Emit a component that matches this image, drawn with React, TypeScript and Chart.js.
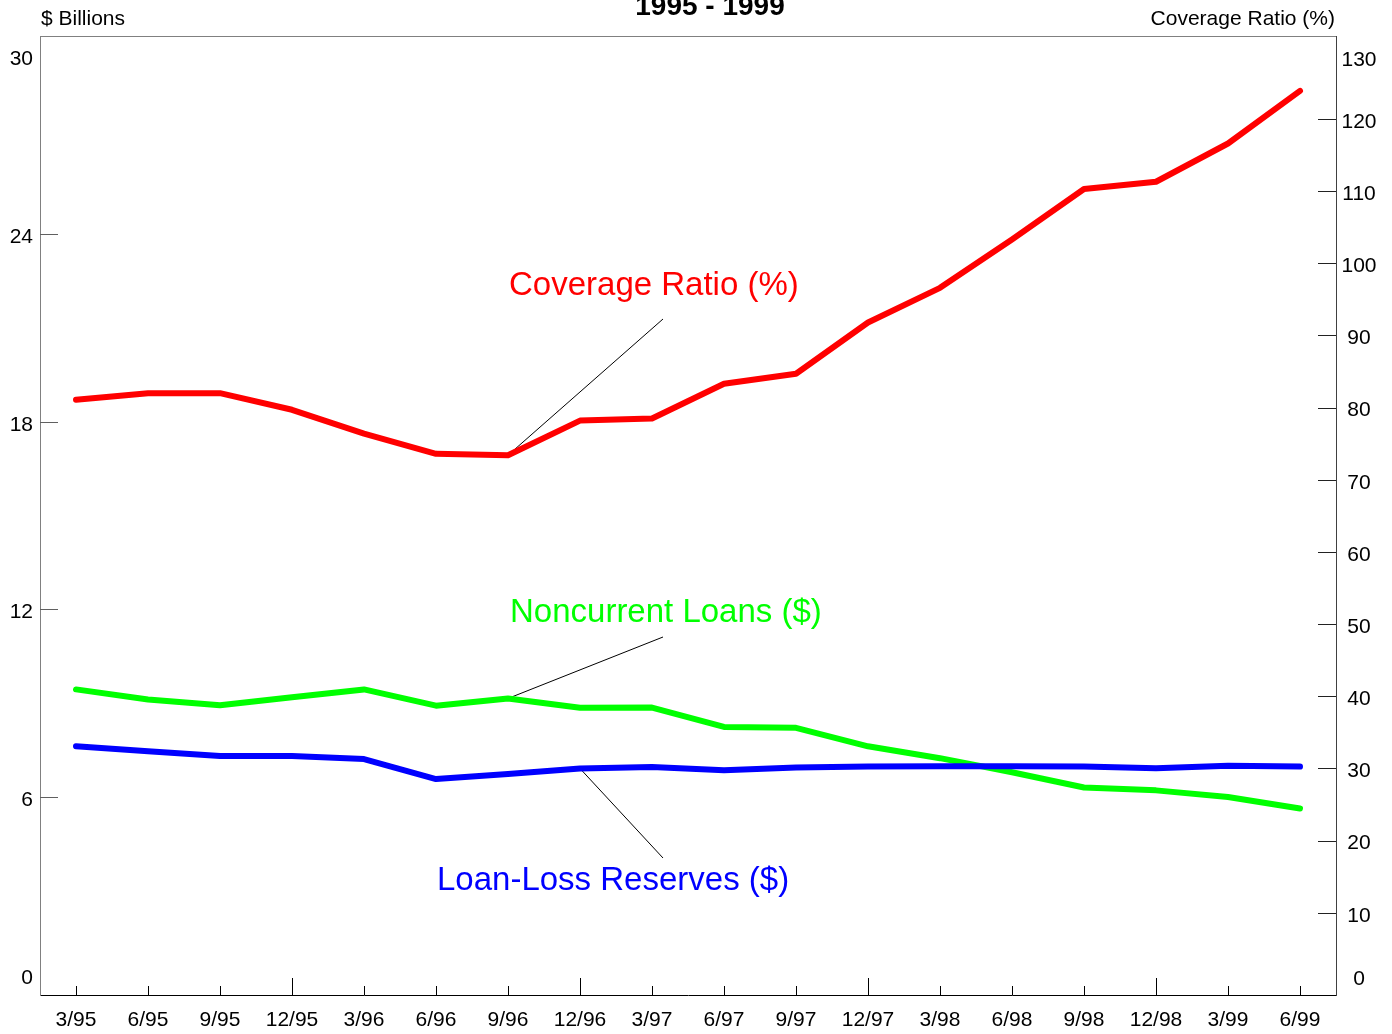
import React, { useEffect, useRef } from "react";
import { Chart, registerables } from "chart.js";

Chart.register(...registerables);

const CATEGORIES = ["3/95", "6/95", "9/95", "12/95", "3/96", "6/96", "9/96", "12/96", "3/97", "6/97", "9/97", "12/97", "3/98", "6/98", "9/98", "12/98", "3/99", "6/99"];
const COVERAGE_RATIO = [81.1, 82.0, 82.0, 79.7, 76.4, 73.6, 73.4, 78.2, 78.5, 83.3, 84.7, 91.8, 96.6, 103.3, 110.3, 111.3, 116.6, 123.9];
const NONCURRENT_LOANS = [9.44, 9.12, 8.93, 9.19, 9.44, 8.92, 9.15, 8.85, 8.86, 8.24, 8.21, 7.62, 7.24, 6.79, 6.30, 6.21, 6.00, 5.63];
const LOAN_LOSS_RESERVES = [7.62, 7.46, 7.31, 7.31, 7.21, 6.57, 6.73, 6.91, 6.96, 6.85, 6.94, 6.97, 6.98, 6.98, 6.97, 6.92, 7.00, 6.97];
const LEFT_TICKS = [0, 6, 12, 18, 24, 30];
const RIGHT_TICKS = [0, 10, 20, 30, 40, 50, 60, 70, 80, 90, 100, 110, 120, 130];

const TITLE = "1995 - 1999";
const LEFT_CAPTION = "$ Billions";
const RIGHT_CAPTION = "Coverage Ratio (%)";

const FONT = '"Liberation Sans", Arial, Helvetica, sans-serif';

// annotation labels with leader lines (dataset index, anchor point index, label pos, leader end)
const ANNOTATIONS = [
  { text: "Coverage Ratio (%)", color: "#FF0000", dataset: 0, index: 6, tx: 509, ty: 295, lx: 663, ly: 319 },
  { text: "Noncurrent Loans ($)", color: "#00FF00", dataset: 1, index: 6, tx: 510, ty: 622, lx: 663, ly: 637 },
  { text: "Loan-Loss Reserves ($)", color: "#0000FF", dataset: 2, index: 7, tx: 437, ty: 890, lx: 663, ly: 858 },
];

// vertical nudge of a value-axis label relative to its tick (end labels are kept inside the frame)
function labelY(scale: any, v: number, first: number, last: number) {
  const y = scale.getPixelForValue(v);
  if (v === last) return y + 13;
  if (v === first) return y - 6;
  return y + 3;
}

const decorPlugin = {
  id: "decor",
  beforeDatasetsDraw(chart: any) {
    const { ctx, scales } = chart;
    ctx.save();
    ctx.strokeStyle = "#000";
    ctx.lineWidth = 1;
    ANNOTATIONS.forEach((a) => {
      const ds = chart.data.datasets[a.dataset];
      const ys = scales[ds.yAxisID];
      const x0 = scales.x.getPixelForValue(a.index);
      const y0 = ys.getPixelForValue(ds.data[a.index]);
      ctx.beginPath();
      ctx.moveTo(x0, y0);
      ctx.lineTo(a.lx, a.ly);
      ctx.stroke();
    });
    ctx.restore();
  },
  afterDraw(chart: any) {
    const { ctx, chartArea, scales } = chart;
    const { left, right, top, bottom } = chartArea;
    ctx.save();
    // top border
    ctx.strokeStyle = "#808080";
    ctx.lineWidth = 1;
    ctx.beginPath();
    ctx.moveTo(left, top + 0.5);
    ctx.lineTo(right, top + 0.5);
    ctx.stroke();

    // left ticks (inward)
    ctx.strokeStyle = "#606060";
    LEFT_TICKS.slice(1, -1).forEach((v) => {
      const y = Math.round(scales.y.getPixelForValue(v)) + 0.5;
      ctx.beginPath();
      ctx.moveTo(left, y);
      ctx.lineTo(left + 18, y);
      ctx.stroke();
    });
    // right ticks (inward)
    ctx.strokeStyle = "#222";
    RIGHT_TICKS.slice(1, -1).forEach((v) => {
      const y = Math.round(scales.y1.getPixelForValue(v)) + 0.5;
      ctx.beginPath();
      ctx.moveTo(right - 18, y);
      ctx.lineTo(right, y);
      ctx.stroke();
    });
    // bottom ticks
    ctx.strokeStyle = "#000";
    CATEGORIES.forEach((c, i) => {
      const x = Math.round(scales.x.getPixelForValue(i)) + 0.5;
      const len = c.startsWith("12/") ? 17 : 9;
      ctx.beginPath();
      ctx.moveTo(x, bottom);
      ctx.lineTo(x, bottom - len);
      ctx.stroke();
    });

    // value-axis tick labels
    ctx.fillStyle = "#000";
    ctx.font = `21px ${FONT}`;
    ctx.textBaseline = "middle";
    ctx.textAlign = "right";
    LEFT_TICKS.forEach((v) => {
      ctx.fillText(String(v), left - 7, labelY(scales.y, v, LEFT_TICKS[0], LEFT_TICKS[LEFT_TICKS.length - 1]));
    });
    ctx.textAlign = "center";
    RIGHT_TICKS.forEach((v) => {
      ctx.fillText(String(v), right + 23, labelY(scales.y1, v, RIGHT_TICKS[0], RIGHT_TICKS[RIGHT_TICKS.length - 1]));
    });

    // title & captions
    ctx.textBaseline = "alphabetic";
    ctx.font = `bold 28px ${FONT}`;
    ctx.textAlign = "center";
    ctx.fillText(TITLE, 710, 15);
    ctx.font = `21px ${FONT}`;
    ctx.textAlign = "left";
    ctx.fillText(LEFT_CAPTION, 41, 25);
    ctx.textAlign = "right";
    ctx.fillText(RIGHT_CAPTION, 1335, 25);

    // annotation labels
    ctx.font = `33px ${FONT}`;
    ctx.textAlign = "left";
    ANNOTATIONS.forEach((a) => {
      ctx.fillStyle = a.color;
      ctx.fillText(a.text, a.tx, a.ty);
    });
    ctx.restore();
  },
};

export default function App() {
  const canvasRef = useRef<HTMLCanvasElement | null>(null);

  useEffect(() => {
    document.body.style.margin = "0";
    const canvas = canvasRef.current;
    if (!canvas) return;
    Chart.defaults.font.family = FONT;
    const chart = new Chart(canvas, {
      type: "line",
      data: {
        labels: CATEGORIES,
        datasets: [
          {
            label: "Coverage Ratio (%)",
            data: COVERAGE_RATIO,
            yAxisID: "y1",
            borderColor: "#FF0000",
            backgroundColor: "#FF0000",
            borderWidth: 6,
            pointRadius: 0,
            borderCapStyle: "round",
            borderJoinStyle: "round",
            tension: 0,
            order: 3,
          },
          {
            label: "Noncurrent Loans ($)",
            data: NONCURRENT_LOANS,
            yAxisID: "y",
            borderColor: "#00FF00",
            backgroundColor: "#00FF00",
            borderWidth: 6,
            pointRadius: 0,
            borderCapStyle: "round",
            borderJoinStyle: "round",
            tension: 0,
            order: 2,
          },
          {
            label: "Loan-Loss Reserves ($)",
            data: LOAN_LOSS_RESERVES,
            yAxisID: "y",
            borderColor: "#0000FF",
            backgroundColor: "#0000FF",
            borderWidth: 6,
            pointRadius: 0,
            borderCapStyle: "round",
            borderJoinStyle: "round",
            tension: 0,
            order: 1,
          },
        ],
      },
      options: {
        responsive: false,
        animation: false,
        events: [],
        layout: { padding: { top: 36, left: 0, right: 0, bottom: 0 } },
        plugins: {
          legend: { display: false },
          title: { display: false },
          tooltip: { enabled: false },
        },
        scales: {
          x: {
            type: "category",
            offset: true,
            grid: { display: false, drawTicks: false },
            border: { display: true, color: "#000", width: 1 },
            ticks: {
              color: "#000",
              font: { size: 21, family: FONT },
              padding: 13,
              maxRotation: 0,
              autoSkip: false,
            },
            afterFit(scale: any) {
              scale.height = 39;
            },
          },
          y: {
            type: "linear",
            position: "left",
            min: -0.336,
            max: 30.342,
            grid: { display: false, drawTicks: false },
            border: { display: true, color: "#808080", width: 1 },
            afterBuildTicks(scale: any) {
              scale.ticks = LEFT_TICKS.map((v) => ({ value: v }));
            },
            ticks: { display: false },
            afterFit(scale: any) {
              scale.width = 40;
            },
          },
          y1: {
            type: "linear",
            position: "right",
            min: -1.4,
            max: 131.5,
            grid: { display: false, drawTicks: false },
            border: { display: true, color: "#404040", width: 1 },
            afterBuildTicks(scale: any) {
              scale.ticks = RIGHT_TICKS.map((v) => ({ value: v }));
            },
            ticks: { display: false },
            afterFit(scale: any) {
              scale.width = 56;
            },
          },
        },
      },
      plugins: [decorPlugin],
    } as any);
    return () => chart.destroy();
  }, []);

  return (
    <div style={{ position: "absolute", left: 0, top: 0, width: 1392, height: 1034, background: "#fff" }}>
      <canvas ref={canvasRef} width={1392} height={1034} style={{ display: "block" }} />
    </div>
  );
}
